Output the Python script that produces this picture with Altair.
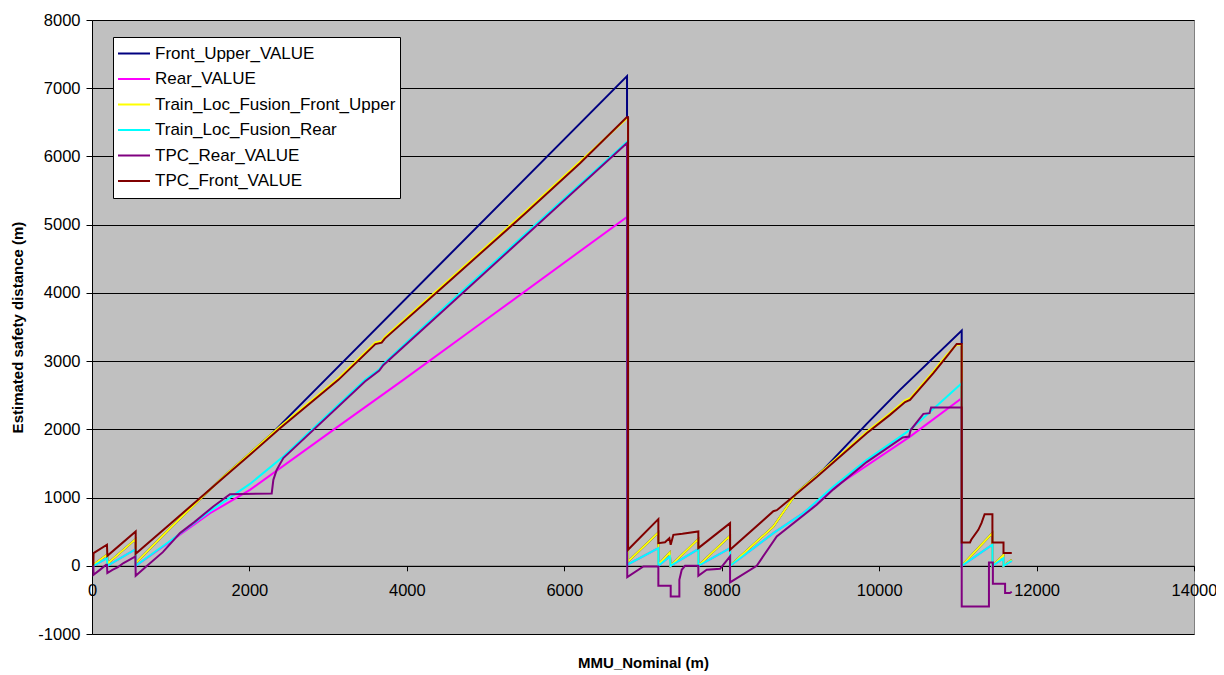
import altair as alt
import pandas as pd

SERIES = ["Front_Upper_VALUE", "Rear_VALUE", "Train_Loc_Fusion_Front_Upper",
          "Train_Loc_Fusion_Rear", "TPC_Rear_VALUE", "TPC_Front_VALUE"]
COLORS = ["#000080", "#FF00FF", "#FFFF00", "#00FFFF", "#800080", "#800000"]

FRONT_UPPER_X = [17, 190, 195, 195, 555, 555, 1000, 1665, 2007, 2262, 6797, 6797, 6810, 6810,
                 7195, 7195, 7340, 7350, 7703, 7703, 8106, 8106, 8656, 8953, 9300, 9842, 10265,
                 11049, 11049, 11439, 11439, 11580, 11580, 11685]
FRONT_UPPER_Y = [15, 161, 161, 30, 391, 39, 560, 1300, 1650, 1912, 7178, 6582, 6573, 63,
                 488, 15, 195, 0, 391, 0, 440, 0, 576, 1070, 1420, 2080, 2578,
                 3447, 0, 479, 0, 161, 0, 88]

REAR_X = [17, 190, 195, 555, 555, 1000, 1500, 2007, 3066, 3955, 5000, 6797, 6800,
          7195, 7195, 7340, 7350, 7703, 7703, 8106, 8106, 8656, 9037, 9419, 10392,
          11049, 11049, 11439, 11439, 11580, 11580, 11685]
REAR_Y = [0, 112, 0, 244, 0, 360, 770, 1113, 1992, 2725, 3603, 5113, 15,
          259, 0, 137, 0, 244, 0, 259, 0, 479, 772, 1140, 1894,
          2456, 0, 308, 0, 112, 0, 73]

TLF_FRONT_X = [17, 190, 195, 195, 555, 555, 1000, 1665, 2007, 2389, 3130, 3600, 3680, 3720,
               4500, 5500, 6200, 6797, 6810, 6810, 7195, 7195, 7340, 7350, 7703, 7703, 8106, 8106,
               8656, 8953, 9207, 9842, 10138, 10330, 10392, 10689, 10858, 10985, 11049, 11049,
               11439, 11439, 11580, 11580, 11685]
TLF_FRONT_Y = [15, 161, 161, 30, 391, 39, 560, 1300, 1650, 2042, 2750, 3275, 3295, 3355,
               4155, 5185, 5925, 6559, 6559, 63, 488, 15, 195, 0, 391, 0, 440, 0,
               576, 1070, 1320, 1965, 2235, 2425, 2455, 2848, 3090, 3240, 3240, 0,
               479, 0, 161, 0, 88]

TLF_REAR_X = [17, 190, 195, 555, 555, 1000, 1500, 2007, 2431, 3468, 3650, 3700, 4500, 5500,
              6797, 6800, 7195, 7195, 7340, 7350, 7703, 7703, 8106, 8106, 8656, 9037, 9419,
              9842, 10392, 11049, 11049, 11439, 11439, 11580, 11580, 11685]
TLF_REAR_Y = [0, 112, 0, 244, 0, 370, 800, 1200, 1601, 2725, 2880, 2960, 3810, 4860,
              6216, 15, 259, 0, 137, 0, 244, 0, 259, 0, 479, 772, 1162,
              1553, 1992, 2676, 0, 308, 0, 112, 0, 73]

TPC_REAR_X = [17, 20, 100, 180, 190, 195, 260, 330, 400, 480, 552, 555, 700, 900, 1118, 1300,
              1541, 1753, 2283, 2304, 2346, 2431, 3468, 3650, 3700, 4500, 5500, 6797, 6800,
              7005, 7195, 7195, 7352, 7352, 7462, 7462, 7492, 7534, 7703, 7703, 7810, 7979,
              8106, 8106, 8445, 8699, 9207, 9419, 9842, 10300, 10380, 10400, 10562, 10640,
              10660, 11049, 11049, 11395, 11395, 11445, 11445, 11600, 11600, 11660, 11685]
TPC_REAR_Y = [0, -132, -60, 15, 15, -107, -60, -20, 40, 90, 136, -146, 0, 200, 479, 640,
              869, 1050, 1060, 1260, 1406, 1578, 2700, 2860, 2940, 3780, 4830, 6197, -166,
              -10, -10, -293, -293, -449, -449, -205, -59, 0, 0, -146, -59, -44,
              137, -244, 0, 430, 894, 1120, 1520, 1880, 1895, 1990, 2227, 2237,
              2319, 2319, -596, -596, 48, 48, -264, -264, -400, -400, -380]

TPC_FRONT_X = [17, 20, 190, 195, 555, 555, 1000, 1665, 2007, 2389, 3130, 3600, 3680, 3720,
               4500, 5500, 6200, 6793, 6810, 6810, 7195, 7195, 7280, 7335, 7352, 7386, 7500,
               7703, 7703, 8106, 8106, 8656, 8700, 9207, 9842, 10138, 10330, 10392, 10689,
               10858, 10985, 11049, 11049, 11154, 11170, 11260, 11300, 11340, 11439, 11439,
               11580, 11580, 11685]
TPC_FRONT_Y = [0, 186, 308, 146, 503, 176, 620, 1285, 1626, 2017, 2725, 3250, 3270, 3330,
               4130, 5160, 5900, 6573, 6573, 234, 684, 332, 345, 405, 307, 454, 469,
               503, 259, 625, 234, 800, 815, 1300, 1944, 2212, 2400, 2430, 2823,
               3067, 3252, 3252, 342, 342, 381, 527, 625, 757, 757, 342,
               342, 186, 186]

X_TICKS = [0, 2000, 4000, 6000, 8000, 10000, 12000, 14000]
Y_TICKS = [-1000, 0, 1000, 2000, 3000, 4000, 5000, 6000, 7000, 8000]

rows = []
for name, xs, ys in [
    (SERIES[0], FRONT_UPPER_X, FRONT_UPPER_Y),
    (SERIES[1], REAR_X, REAR_Y),
    (SERIES[2], TLF_FRONT_X, TLF_FRONT_Y),
    (SERIES[3], TLF_REAR_X, TLF_REAR_Y),
    (SERIES[4], TPC_REAR_X, TPC_REAR_Y),
    (SERIES[5], TPC_FRONT_X, TPC_FRONT_Y),
]:
    for i, (xv, yv) in enumerate(zip(xs, ys)):
        rows.append({"series": name, "x": xv, "y": yv, "idx": i})
df = pd.DataFrame(rows)

FONT = "Liberation Sans"

x_enc = alt.X("x:Q", scale=alt.Scale(domain=[0, 14000], nice=False, zero=False),
              axis=alt.Axis(values=X_TICKS, labelExpr="datum.value", grid=False,
                            offset=-68.2, tickSize=5, labelPadding=12,
                            labelFontSize=16.5, labelFont=FONT, labelColor="black",
                            domainColor="black", tickColor="black",
                            title="MMU_Nominal (m)", titleFont=FONT, titleFontSize=15,
                            titleFontWeight="bold", titleColor="black",
                            titleX=551, titleY=97, titleBaseline="middle",
                            titleAlign="center", labelFlush=False))
y_enc = alt.Y("y:Q", scale=alt.Scale(domain=[-1000, 8000], nice=False, zero=False),
              axis=alt.Axis(values=Y_TICKS, labelExpr="datum.value", grid=True,
                            gridColor="black", gridWidth=1, gridOpacity=1,
                            tickSize=6, labelPadding=6, labelFontSize=16.5, labelFont=FONT,
                            labelColor="black", domainColor="black", tickColor="black",
                            title="Estimated safety distance (m)", titleFont=FONT,
                            titleFontSize=15, titleFontWeight="bold", titleColor="black",
                            titleX=-75, titleY=307, titleAngle=270, titleAlign="center",
                            titleBaseline="middle", labelFlush=False))

color_enc = alt.Color("series:N", scale=alt.Scale(domain=SERIES, range=COLORS),
                      legend=alt.Legend(title=None, orient="none", legendX=21, legendY=17,
                                        fillColor="white", strokeColor="black",
                                        padding=4, symbolType="stroke", symbolSize=1024,
                                        symbolStrokeWidth=2, clipHeight=25, rowPadding=0.5,
                                        labelFont=FONT, labelFontSize=17, labelColor="black",
                                        labelOffset=4, labelLimit=400))

base = alt.Chart(df).mark_line(strokeWidth=2).encode(
    x=x_enc, y=y_enc, color=color_enc, order="idx:Q")

layers = [base.transform_filter(alt.datum.series == s) for s in SERIES]

chart = alt.layer(*layers).properties(
    width=1102, height=614,
    padding={"left": 84, "top": 12, "right": 22, "bottom": 38},
    autosize=alt.AutoSizeParams(type="none"),
    background="white",
).configure_view(fill="#C0C0C0", stroke="#808080", strokeWidth=1)

chart.save("out.html", embed_options={"renderer": "svg", "actions": False})
